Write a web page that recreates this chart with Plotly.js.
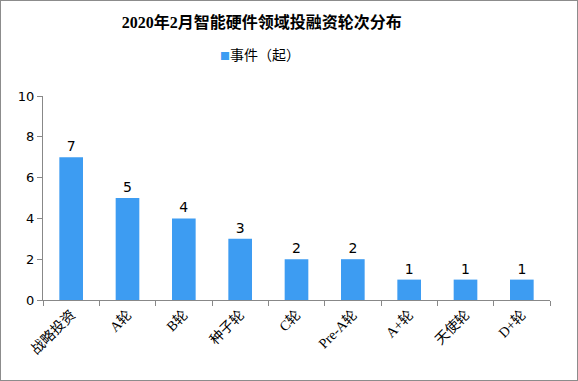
<!DOCTYPE html>
<html>
<head>
<meta charset="utf-8">
<script src="https://cdn.plot.ly/plotly-3.0.1.min.js"></script>
<style>
html,body{margin:0;padding:0;background:#fff;}
#wrap{position:relative;width:578px;height:381px;}
#chart{width:578px;height:381px;}
#frame{position:absolute;left:0;top:0;width:576px;height:379px;border:1px solid #8c8c8c;pointer-events:none;}
</style>
</head>
<body>
<div id="wrap"><div id="chart"></div><div id="frame"></div></div>
<script>
var categories = ["战略投资","A轮","B轮","种子轮","C轮","Pre-A轮","A+轮","天使轮","D+轮"];
var values = [7,5,4,3,2,2,1,1,1];
var seriesName = "事件（起）";
var yTicks = [0,2,4,6,8,10];
var barColor = "rgb(61,156,242)";

var trace = {
  type: "bar",
  x: categories,
  y: values,
  name: seriesName,
  marker: {color: barColor},
  width: 0.42,
  text: values.map(String),
  textposition: "outside",
  cliponaxis: false,
  textfont: {family: "DejaVu Sans, Arial, sans-serif", size: 14, color: "#000"},
  showlegend: false
};

var layout = {
  width: 578, height: 381,
  margin: {l: 43, r: 28, t: 96, b: 81},
  paper_bgcolor: "#fff", plot_bgcolor: "#fff",
  title: {
    text: "<b>2020年2月智能硬件领域投融资轮次分布</b>",
    font: {family: "Liberation Serif, Noto Sans CJK SC, serif", size: 16, color: "#000"},
    xref: "container", x: 0.453, xanchor: "center", y: 0.94, yanchor: "middle"
  },
  showlegend: false,
  annotations: [{
    xref: "paper", yref: "paper",
    x: (260 - 43) / 507, y: 1.206, xanchor: "center", yanchor: "middle",
    showarrow: false,
    text: "<span style='color:" + barColor + ";font-size:10px'>■</span>" + seriesName,
    font: {family: "Noto Sans CJK SC, sans-serif", size: 14, color: "#000"}
  }],
  xaxis: {
    type: "category",
    tickangle: -45,
    tickson: "boundaries",
    ticks: "outside", ticklen: 5, tickcolor: "#888",
    showline: true, linecolor: "#888", linewidth: 1,
    showgrid: false,
    tickfont: {family: "Liberation Serif, Noto Sans CJK SC, serif", size: 14, color: "#000"}
  },
  yaxis: {
    range: [0, 10],
    tickvals: yTicks,
    ticks: "outside", ticklen: 5, tickcolor: "#888",
    showline: true, linecolor: "#888", linewidth: 1,
    showgrid: false, zeroline: false,
    tickfont: {family: "DejaVu Sans, Arial, sans-serif", size: 13, color: "#000"}
  },
  bargap: 0.58
};

Plotly.newPlot("chart", [trace], layout, {displayModeBar: false, staticPlot: true});
</script>
</body>
</html>
